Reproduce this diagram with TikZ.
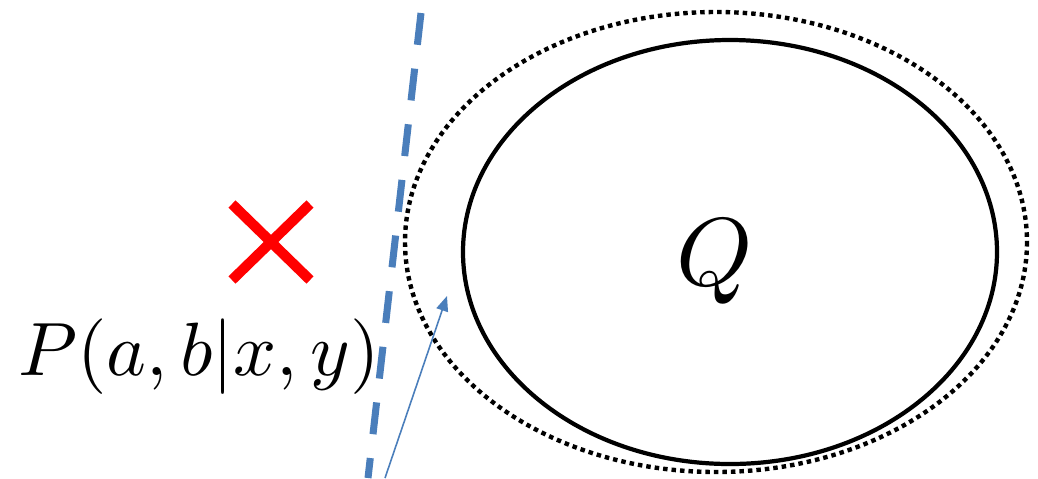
\documentclass[tikz,border=0pt]{standalone}
\usepackage{amsmath}
\usepackage{graphicx}
\usetikzlibrary{arrows.meta,positioning}
\definecolor{lineblue}{RGB}{74,126,187}
\begin{document}
\begin{tikzpicture}[x=0.02cm,y=-0.02cm,
setline/.style={draw,line width=2.4pt},
boundline/.style={draw,line width=2.5pt,dash pattern=on 0.09cm off 0.08cm},
sepline/.style={draw=lineblue,line width=4pt,dash pattern=on 0.64cm off 0.48cm},
cross/.style={draw=red,line width=5.8pt},
flow/.style={-{Triangle[length=3mm,width=2.4mm]},draw=lineblue,line width=0.9pt}]
\useasboundingbox (0,0) rectangle (1038,478);
% sets
\draw[boundline] (716,242) ellipse [x radius=311,y radius=230];
\draw[setline] (730,252) ellipse [x radius=267,y radius=212];
\node[anchor=base,inner sep=0pt] (qset) at (715,285) {\scalebox{5.5}{$Q$}};
% separating line
\coordinate (septop) at (421,13);
\coordinate (sepbot) at (368,478);
\draw[sepline] (septop) -- (sepbot);
% point outside
\coordinate (xa) at (232,204);
\coordinate (xb) at (310,280);
\coordinate (xc) at (310,204);
\coordinate (xd) at (232,280);
\draw[cross] (xa) -- (xb);
\draw[cross] (xc) -- (xd);
\node[anchor=base west,inner sep=0pt] (prob) at (18,375) {\scalebox{4.3}{$P(a,b|x,y)$}};
% normal vector
\coordinate (nstart) at (385,478);
\coordinate (nend) at (447,296);
\draw[flow] (nstart) -- (nend);
\end{tikzpicture}
\end{document}
